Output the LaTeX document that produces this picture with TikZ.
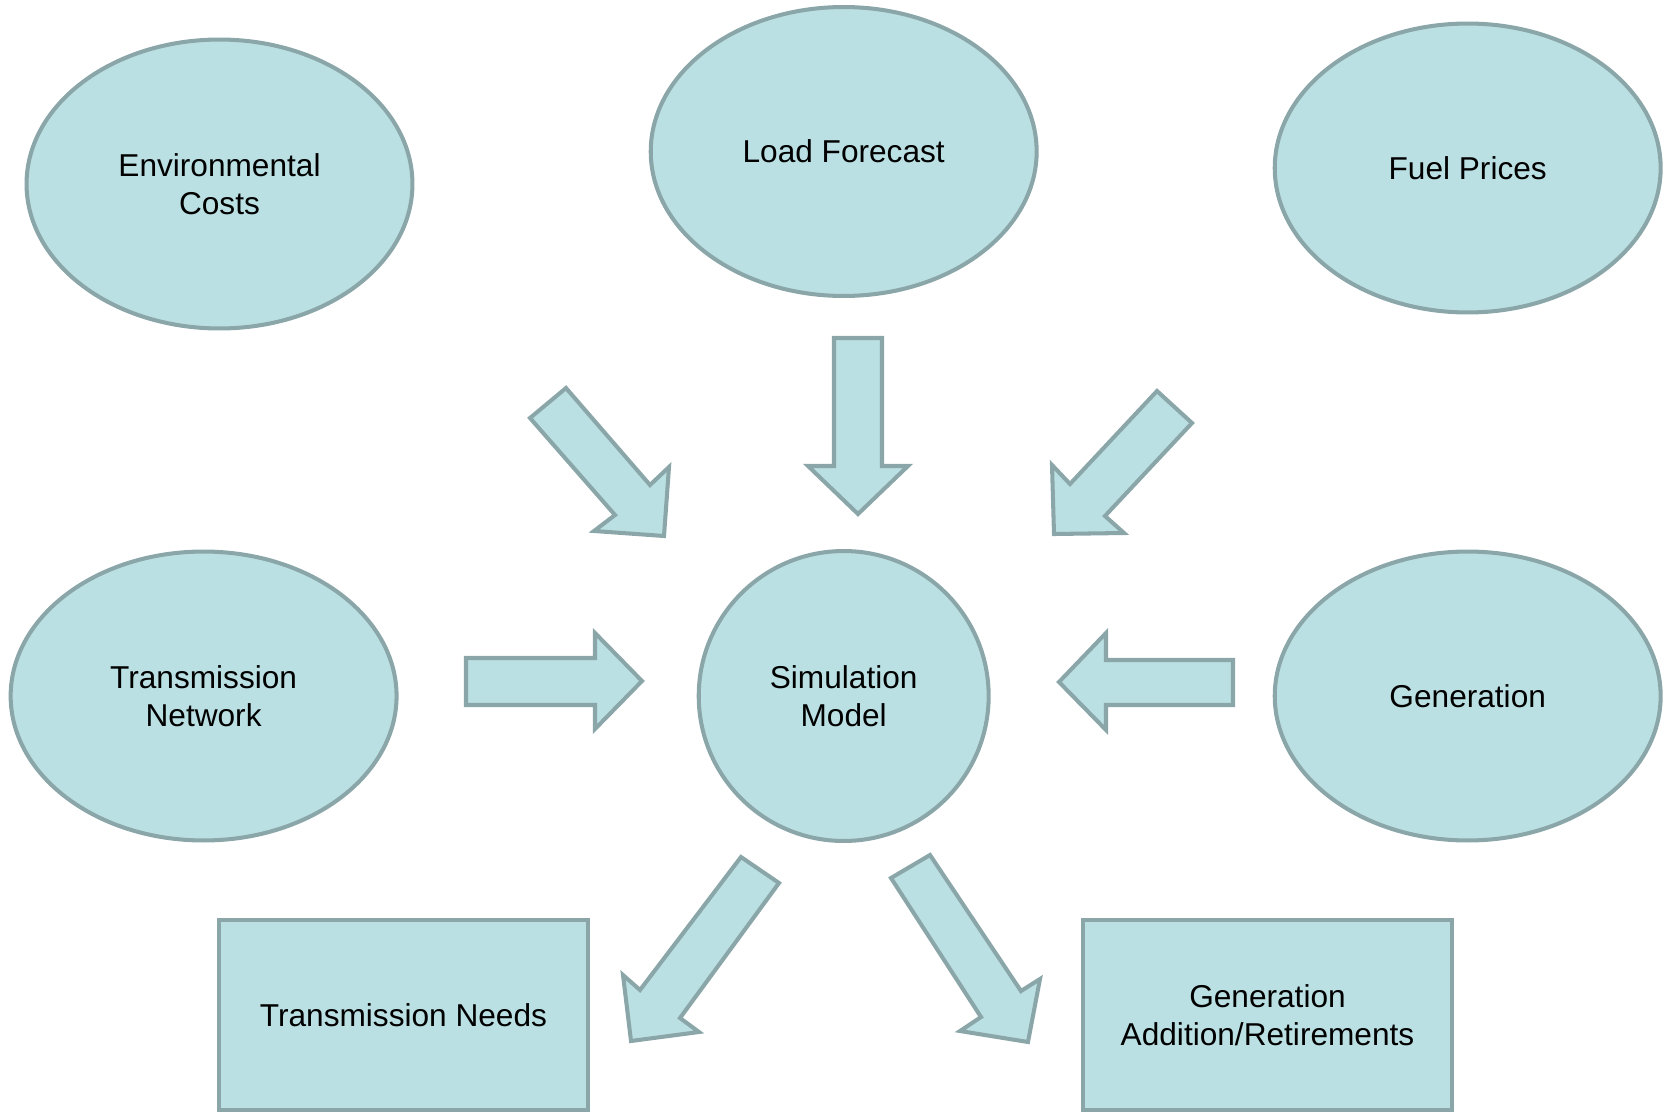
\documentclass[tikz,border=0pt]{standalone}
\usepackage{fontspec}
\setmainfont{Liberation Sans}
\usetikzlibrary{shapes.geometric}
\definecolor{fillc}{RGB}{186,224,227}
\definecolor{linec}{RGB}{138,166,168}
\begin{document}
\begin{tikzpicture}[x=0.02cm,y=-0.02cm,
  shapebase/.style={draw=linec,fill=fillc,line width=2.3pt,font=\fontsize{18}{21.8}\selectfont,align=center,inner sep=0pt,text depth=0pt},
  oval/.style={shapebase,ellipse,minimum width=7.72cm,minimum height=5.78cm},
  roundnode/.style={shapebase,circle,minimum size=5.8cm},
  box/.style={shapebase,rectangle,minimum width=7.38cm,minimum height=3.8cm},
  blockarrow/.style={draw=linec,fill=fillc,line width=2.3pt,line join=miter}
]
\useasboundingbox (0,0) rectangle (1667,1112);
\node[oval] (env) at (219.5,184) {Environmental\\Costs};
\node[oval] (load) at (843.7,151.5) {Load Forecast};
\node[oval] (fuel) at (1467.7,168) {Fuel Prices};
\node[oval] (trans) at (203.6,696) {Transmission\\Network};
\node[roundnode] (sim) at (843.7,696) {Simulation\\Model};
\node[oval] (gen) at (1467.7,696) {Generation};
\node[box] (tneeds) at (403.5,1015) {Transmission Needs};
\node[box] (gadd) at (1267.5,1015) {Generation\\Addition/Retirements};
% block arrows
\draw[blockarrow] (530,418) -- (566,388) -- (650,485) -- (669,467) -- (664,536) -- (594,531) -- (615,515) -- cycle;
\draw[blockarrow] (834,338) -- (882,338) -- (882,466) -- (908,466) -- (858,514) -- (808,466) -- (834,466) -- cycle;
\draw[blockarrow] (1157,391) -- (1192,423) -- (1105,516) -- (1124,533) -- (1054,534) -- (1052,465) -- (1070,484) -- cycle;
\draw[blockarrow] (466,658) -- (595,658) -- (595,633) -- (642,681) -- (595,729) -- (595,705) -- (466,705) -- cycle;
\draw[blockarrow] (1233,660) -- (1106,660) -- (1106,633) -- (1059,682) -- (1106,730) -- (1106,705) -- (1233,705) -- cycle;
\draw[blockarrow] (741,857) -- (779,883) -- (680,1018) -- (699,1032) -- (631,1041) -- (623,975) -- (640,990) -- cycle;
\draw[blockarrow] (891,878) -- (930,855) -- (1021,991) -- (1040,979) -- (1028,1042) -- (960,1031) -- (981,1017) -- cycle;
\end{tikzpicture}
\end{document}
